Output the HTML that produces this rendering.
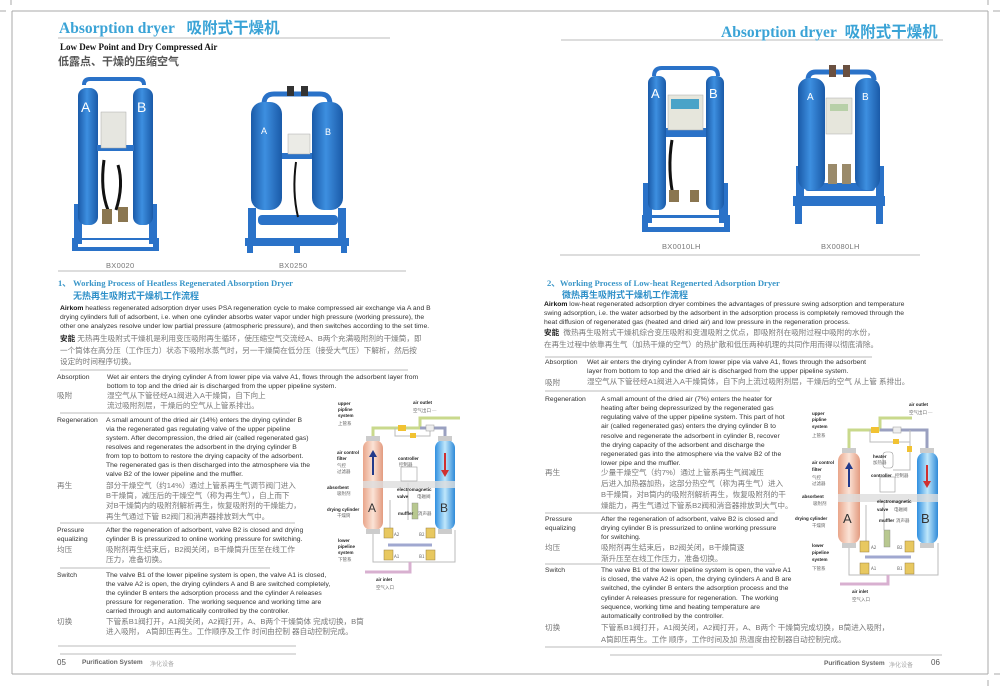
<!DOCTYPE html>
<html><head><meta charset="utf-8">
<style>
html,body{margin:0;padding:0;background:#fff;}
body{width:1000px;height:686px;position:relative;overflow:hidden;font-family:"Liberation Sans","Noto Sans CJK SC",sans-serif;}
.t{position:absolute;white-space:nowrap;font-size:6.8px;line-height:9px;color:#333;}
.c{position:absolute;white-space:nowrap;font-size:7.6px;line-height:10px;color:#777;font-family:"Liberation Sans","Noto Sans CJK SC",sans-serif;}
.h1{position:absolute;white-space:nowrap;font-family:"Liberation Serif","Noto Serif CJK SC",serif;font-weight:bold;color:#3aa3d6;font-size:15.5px;}
.h2{position:absolute;white-space:nowrap;font-family:"Liberation Serif",serif;font-weight:bold;color:#3a96c8;font-size:8.6px;}
.h3{position:absolute;white-space:nowrap;font-weight:bold;color:#2d8fc8;font-size:9px;font-family:"Liberation Sans","Noto Sans CJK SC",sans-serif;}
.cap{position:absolute;font-size:7.5px;color:#777;letter-spacing:0.3px;}
b{color:#111;}
</style></head><body>
<svg width="1000" height="686" style="position:absolute;left:0;top:0">
<defs>
<linearGradient id="bl" x1="0" x2="1"><stop offset="0" stop-color="#1a5aa8"/><stop offset=".45" stop-color="#3d8fe0"/><stop offset="1" stop-color="#1a5aa8"/></linearGradient>
<linearGradient id="pk" x1="0" x2="1"><stop offset="0" stop-color="#e9a58a"/><stop offset=".5" stop-color="#fbe3d6"/><stop offset="1" stop-color="#e39b80"/></linearGradient>
<linearGradient id="cy" x1="0" x2="1"><stop offset="0" stop-color="#2f8fe0"/><stop offset=".5" stop-color="#bfe7fb"/><stop offset="1" stop-color="#2f8ad8"/></linearGradient>
</defs>
<g stroke="#aaa" stroke-width="1" fill="none">
<line x1="12" y1="11" x2="988" y2="11"/><line x1="12" y1="11" x2="12" y2="674"/><line x1="988" y1="11" x2="988" y2="674"/><line x1="12" y1="674" x2="988" y2="674"/>
<line x1="0" y1="11" x2="6" y2="11"/><line x1="11" y1="0" x2="11" y2="5"/><line x1="993" y1="11" x2="1000" y2="11"/><line x1="988" y1="0" x2="988" y2="5"/><line x1="994" y1="674" x2="1000" y2="674"/><line x1="988" y1="680" x2="988" y2="686"/>
</g>
<g stroke="#bbb" stroke-width="1">
<line x1="58" y1="38" x2="390" y2="38"/><line x1="58" y1="271" x2="406" y2="271"/>
<line x1="60" y1="370" x2="408" y2="370"/><line x1="60" y1="413" x2="290" y2="413"/>
<line x1="60" y1="523" x2="295" y2="523"/><line x1="60" y1="568" x2="270" y2="568"/>
<line x1="60" y1="654" x2="296" y2="654"/>
<line x1="561" y1="40" x2="943" y2="40"/><line x1="560" y1="255" x2="920" y2="255"/>
<line x1="545" y1="357" x2="872" y2="357"/><line x1="545" y1="391" x2="760" y2="391"/>
<line x1="545" y1="513" x2="775" y2="513"/><line x1="545" y1="564" x2="775" y2="564"/>
<line x1="610" y1="655" x2="942" y2="655"/>
</g>
<line x1="58" y1="646" x2="296" y2="646" stroke="#ddd" stroke-width="2"/>
<line x1="545" y1="647" x2="753" y2="647" stroke="#ddd" stroke-width="2"/>

<g>
<rect x="72" y="238" width="87" height="13" fill="#2a72c8"/><rect x="78" y="240" width="75" height="7" fill="#fff"/>
<rect x="74" y="204" width="8" height="40" fill="#2a72c8"/><rect x="149" y="204" width="8" height="40" fill="#2a72c8"/>
<path d="M84 85 q0-6 6-6 h48 q6 0 6 6" stroke="#2a72c8" stroke-width="4" fill="none"/>
<rect x="78" y="88" width="20" height="137" rx="8" fill="url(#bl)"/><rect x="133" y="88" width="20" height="137" rx="8" fill="url(#bl)"/>
<rect x="97" y="145" width="37" height="6" fill="#2a72c8"/>
<rect x="101" y="112" width="25" height="36" fill="#e6e6e0" stroke="#aaa" stroke-width=".5"/>
<path d="M104 160 q-4 30 4 50 M118 165 q6 20 -2 45" stroke="#111" stroke-width="3" fill="none"/>
<rect x="102" y="209" width="10" height="15" fill="#8a7650"/><rect x="118" y="207" width="10" height="15" fill="#8a7650"/>
<text x="81" y="112" font-size="14" fill="#fff" font-family="Liberation Sans">A</text><text x="137" y="112" font-size="14" fill="#fff" font-family="Liberation Sans">B</text>
</g>
<g>
<rect x="245" y="238" width="104" height="8" fill="#2a72c8"/><rect x="247" y="240" width="6" height="13" fill="#2a72c8"/><rect x="341" y="240" width="6" height="13" fill="#2a72c8"/><rect x="294" y="240" width="6" height="13" fill="#2a72c8"/>
<rect x="248" y="208" width="8" height="32" fill="#2a72c8"/><rect x="338" y="208" width="8" height="32" fill="#2a72c8"/>
<rect x="258" y="215" width="80" height="10" rx="4" fill="#2a72c8"/>
<path d="M264 104 q0-10 10-10 h46 q10 0 10 10" stroke="#2a72c8" stroke-width="5" fill="none"/>
<rect x="287" y="86" width="7" height="10" fill="#333"/><rect x="301" y="86" width="7" height="10" fill="#333"/>
<rect x="251" y="102" width="31" height="108" rx="12" fill="url(#bl)"/><rect x="312" y="102" width="31" height="108" rx="12" fill="url(#bl)"/>
<rect x="282" y="153" width="30" height="6" fill="#2a72c8"/>
<rect x="288" y="134" width="22" height="20" fill="#ebebe6" stroke="#aaa" stroke-width=".5"/>
<path d="M296 162 q-4 30 2 55" stroke="#111" stroke-width="2" fill="none"/>
<text x="261" y="134" font-size="9" fill="#fff">A</text><text x="325" y="135" font-size="9" fill="#fff">B</text>
</g>
<g>
<rect x="642" y="215" width="88" height="17" fill="#2a72c8"/><rect x="648" y="218" width="76" height="9" fill="#fff"/>
<rect x="643" y="183" width="9" height="40" fill="#2a72c8"/><rect x="719" y="183" width="9" height="40" fill="#2a72c8"/>
<path d="M654 76 q0-8 8-8 h48 q8 0 8 8" stroke="#2a72c8" stroke-width="4" fill="none"/>
<rect x="648" y="76" width="18" height="134" rx="7" fill="url(#bl)"/><rect x="706" y="76" width="18" height="134" rx="7" fill="url(#bl)"/>
<rect x="666" y="128" width="40" height="9" fill="#2a72c8"/>
<rect x="668" y="95" width="35" height="35" fill="#e6e6dc" stroke="#aaa" stroke-width=".5"/><rect x="671" y="99" width="28" height="10" fill="#4aa3c8"/>
<path d="M672 140 q-5 30 2 60" stroke="#111" stroke-width="3" fill="none"/>
<rect x="669" y="190" width="10" height="12" fill="#8a7650"/><rect x="690" y="190" width="9" height="12" fill="#8a7650"/>
<text x="651" y="98" font-size="13" fill="#fff">A</text><text x="709" y="98" font-size="13" fill="#fff">B</text>
</g>
<g>
<rect x="793" y="196" width="92" height="10" fill="#2a72c8"/><rect x="795" y="200" width="7" height="24" fill="#2a72c8"/><rect x="876" y="200" width="7" height="24" fill="#2a72c8"/>
<rect x="796" y="166" width="8" height="32" fill="#2a72c8"/><rect x="876" y="166" width="8" height="32" fill="#2a72c8"/>
<rect x="805" y="183" width="70" height="8" rx="3" fill="#2a72c8"/>
<path d="M808 80 q0-8 8-8 h50 q8 0 8 8" stroke="#2a72c8" stroke-width="5" fill="none"/>
<rect x="829" y="65" width="7" height="12" fill="#6a5040"/><rect x="843" y="65" width="7" height="12" fill="#6a5040"/>
<rect x="798" y="78" width="27" height="112" rx="11" fill="url(#bl)"/><rect x="855" y="78" width="25" height="112" rx="11" fill="url(#bl)"/>
<rect x="826" y="98" width="26" height="36" fill="#e6e6dc" stroke="#aaa" stroke-width=".5"/><rect x="830" y="104" width="18" height="7" fill="#b8d0a8"/>
<rect x="828" y="164" width="9" height="20" fill="#9a8a6a"/><rect x="842" y="164" width="9" height="20" fill="#9a8a6a"/>
<text x="807" y="100" font-size="10" fill="#fff">A</text><text x="862" y="100" font-size="10" fill="#fff">B</text>
</g>

<g font-family="Liberation Sans" >
<g stroke="#c9d98c" stroke-width="3" fill="none"><path d="M373 438 V428 H420 V418 H460"/><path d="M373 428 H400"/></g>
<g stroke="#9aa0c0" stroke-width="3" fill="none"><path d="M420 428 H445 V438"/></g>
<g stroke="#bbb" stroke-width="1" fill="none"><path d="M395 428 V436 H430 V428"/><path d="M373 530 V562 H455 V530"/><path d="M390 500 V533"/><path d="M408 483 V520"/><path d="M390 545 H430"/></g>
<path d="M388 545 H432" stroke="#a0a8d0" stroke-width="3"/>
<path d="M410 562 V572 H365" stroke="#d8b0d0" stroke-width="3" fill="none"/>
<rect x="398" y="425" width="8" height="6" fill="#f1c232"/><rect x="426" y="425" width="8" height="6" fill="#eee" stroke="#999" stroke-width=".5"/><rect x="410" y="433" width="6" height="5" fill="#f1c232"/>
<rect x="363" y="440" width="20" height="90" rx="8" fill="url(#pk)"/><rect x="435" y="440" width="20" height="90" rx="8" fill="url(#cy)"/>
<rect x="366" y="436" width="14" height="5" fill="#ccc"/><rect x="438" y="436" width="14" height="5" fill="#ccc"/>
<rect x="366" y="529" width="14" height="5" fill="#ccc"/><rect x="438" y="529" width="14" height="5" fill="#ccc"/>
<rect x="363" y="481" width="92" height="7" fill="#ddd" opacity=".8"/>
<path d="M373 475 V453" stroke="#223a8a" stroke-width="2"/><path d="M369 457 L373 450 L377 457Z" fill="#223a8a"/>
<path d="M445 453 V473" stroke="#d03030" stroke-width="2"/><path d="M441 470 L445 477 L449 470Z" fill="#d03030"/>
<text x="368" y="512" font-size="12" fill="#333">A</text><text x="440" y="512" font-size="12" fill="#333">B</text>
<rect x="401" y="467" width="16" height="14" fill="#fff" stroke="#999" stroke-width=".6"/>
<rect x="412" y="503" width="6" height="16" fill="#b8c890" stroke="#888" stroke-width=".4"/>
<g fill="#e8c860" stroke="#9a8040" stroke-width=".5"><rect x="384" y="528" width="9" height="10"/><rect x="426" y="528" width="9" height="10"/><rect x="384" y="550" width="9" height="10"/><rect x="426" y="550" width="9" height="10"/></g>
<g font-size="4.5" fill="#222" font-weight="bold"><text x="338" y="405">upper</text><text x="338" y="411">pipline</text><text x="338" y="417">system</text>
<text x="413" y="404">air outlet</text><text x="337" y="454">air control</text><text x="337" y="460">filter</text>
<text x="327" y="489">absorbent</text><text x="327" y="511">drying cylinder</text>
<text x="398" y="460">controller</text><text x="397" y="491">electromagnetic</text><text x="397" y="498">valve</text>
<text x="398" y="515">muffler</text><text x="338" y="542">lower</text><text x="338" y="548">pipeline</text><text x="338" y="554">system</text>
<text x="376" y="581">air inlet</text></g>
<g font-size="4.5" fill="#666" font-family="Noto Sans CJK SC"><text x="338" y="425">上管系</text><text x="413" y="412">空气出口 ─</text><text x="337" y="467">气控</text><text x="337" y="473">过滤器</text>
<text x="337" y="495">吸附剂</text><text x="337" y="517">干燥筒</text><text x="399" y="466">控制器</text><text x="417" y="498">电磁阀</text><text x="418" y="515">消声器</text><text x="338" y="561">下管系</text><text x="376" y="589">空气入口</text>
<text x="394" y="536">A2</text><text x="419" y="536">B2</text><text x="394" y="558">A1</text><text x="419" y="558">B1</text></g>
</g>

<g font-family="Liberation Sans">
<g stroke="#c9d98c" stroke-width="3" fill="none"><path d="M849 450 V430 H880 V418 H912"/></g>
<g stroke="#9aa0c0" stroke-width="3" fill="none"><path d="M880 430 H927 V450"/></g>
<g stroke="#bbb" stroke-width="1" fill="none"><path d="M870 430 V442 H910 V430"/><path d="M910 442 V470 H893"/><path d="M849 543 V575 H938 V543"/><path d="M866 505 V546"/><path d="M884 500 V530"/></g>
<path d="M865 557 H911" stroke="#a0a8d0" stroke-width="3"/>
<path d="M888 575 V584 H840" stroke="#d8b0d0" stroke-width="3" fill="none"/>
<rect x="871" y="427" width="8" height="6" fill="#f1c232"/><rect x="893" y="427" width="8" height="6" fill="#eee" stroke="#999" stroke-width=".5"/><rect x="893" y="439" width="6" height="5" fill="#f1c232"/><rect x="907" y="446" width="5" height="6" fill="#f1c232"/>
<rect x="883" y="452" width="10" height="16" rx="3" fill="#fff" stroke="#999" stroke-width=".6"/>
<rect x="880" y="477" width="15" height="15" fill="#fff" stroke="#999" stroke-width=".6"/>
<rect x="838" y="452" width="22" height="92" rx="9" fill="url(#pk)"/><rect x="917" y="452" width="21" height="92" rx="9" fill="url(#cy)"/>
<rect x="842" y="448" width="14" height="5" fill="#ccc"/><rect x="920" y="448" width="14" height="5" fill="#ccc"/>
<rect x="842" y="543" width="14" height="5" fill="#ccc"/><rect x="920" y="543" width="14" height="5" fill="#ccc"/>
<rect x="838" y="494" width="100" height="8" fill="#ddd" opacity=".8"/>
<path d="M849 487 V465" stroke="#223a8a" stroke-width="2"/><path d="M845 469 L849 462 L853 469Z" fill="#223a8a"/>
<path d="M927 465 V484" stroke="#d03030" stroke-width="2"/><path d="M923 481 L927 488 L931 481Z" fill="#d03030"/>
<text x="843" y="523" font-size="13" fill="#333">A</text><text x="921" y="523" font-size="13" fill="#333">B</text>
<rect x="884" y="530" width="6" height="17" fill="#b8c890" stroke="#888" stroke-width=".4"/>
<g fill="#e8c860" stroke="#9a8040" stroke-width=".5"><rect x="860" y="541" width="9" height="11"/><rect x="905" y="541" width="9" height="11"/><rect x="860" y="563" width="9" height="11"/><rect x="905" y="563" width="9" height="11"/></g>
<g font-size="4.5" fill="#222" font-weight="bold"><text x="812" y="415">upper</text><text x="812" y="421">pipline</text><text x="812" y="428">system</text>
<text x="909" y="406">air outlet</text><text x="873" y="458">heater</text><text x="871" y="477">controller</text>
<text x="812" y="464">air control</text><text x="812" y="471">filter</text><text x="802" y="498">absorbent</text><text x="795" y="520">drying cylinder</text>
<text x="877" y="503">electromagnetic</text><text x="877" y="511">valve</text><text x="879" y="522">muffler</text>
<text x="812" y="547">lower</text><text x="812" y="554">pipeline</text><text x="812" y="561">system</text><text x="852" y="593">air inlet</text></g>
<g font-size="4.5" fill="#666" font-family="Noto Sans CJK SC"><text x="812" y="437">上管系</text><text x="909" y="414">空气出口 ─</text><text x="873" y="464">加热器</text><text x="895" y="477">控制器</text>
<text x="812" y="479">气控</text><text x="812" y="485">过滤器</text><text x="813" y="505">吸附剂</text><text x="812" y="527">干燥筒</text><text x="894" y="511">电磁阀</text><text x="896" y="522">消声器</text><text x="812" y="570">下管系</text><text x="852" y="601">空气入口</text>
<text x="871" y="549">A2</text><text x="897" y="549">B2</text><text x="871" y="570">A1</text><text x="897" y="570">B1</text></g>
</g>
</svg>

<div class="h1" style="left:59px;top:16px;">Absorption dryer&nbsp;&nbsp;&nbsp;<span style="font-family:'Noto Sans CJK SC',sans-serif;">吸附式干燥机</span></div>
<div style="position:absolute;left:60px;top:42px;font-family:'Liberation Serif',serif;font-weight:bold;font-size:9px;color:#111;">Low Dew Point and Dry Compressed Air</div>
<div style="position:absolute;left:58px;top:53px;font-weight:bold;font-size:11px;color:#555;font-family:'Noto Sans CJK SC',sans-serif;">低露点、干燥的压缩空气</div>
<div class="cap" style="left:106px;top:261px;">BX0020</div>
<div class="cap" style="left:279px;top:261px;">BX0250</div>

<div class="h2" style="left:58px;top:277px;">1、 Working Process of Heatless Regenerated Absorption Dryer</div>
<div class="h3" style="left:73px;top:289px;">无热再生吸附式干燥机工作流程</div>
<div class="t" style="left:60px;top:304px;"><b>Airkom</b> heatless regenerated adsorption dryer uses PSA regeneration cycle to make compressed air exchange via A and B</div>
<div class="t" style="left:60px;top:313px;">drying cylinders full of adsorbent, i.e. when one cylinder absorbs water vapor under high pressure (working pressure), the</div>
<div class="t" style="left:60px;top:322px;">other one analyzes resolve under low partial pressure (atmospheric pressure), and then switches according to the set time.</div>
<div class="c" style="left:60px;top:334px;"><b style="color:#222">安能</b>&nbsp;无热再生吸附式干燥机是利用变压吸附再生循环，使压缩空气交流经A、B两个充满吸附剂的干燥筒，即</div>
<div class="c" style="left:60px;top:346px;">一个筒体在高分压（工作压力）状态下吸附水蒸气时，另一干燥筒在低分压（接受大气压）下解析，然后按</div>
<div class="c" style="left:60px;top:357px;">设定的时间程序切换。</div>

<div class="t" style="left:57px;top:373px;">Absorption</div>
<div class="t" style="left:107px;top:373px;">Wet air enters the drying cylinder A from lower pipe via valve A1, flows through the adsorbent layer from</div>
<div class="t" style="left:107px;top:382px;">bottom to top and the dried air is discharged from the upper pipeline system.</div>
<div class="c" style="left:57px;top:391px;">吸附</div>
<div class="c" style="left:107px;top:391px;">湿空气从下管径经A1阀进入A干燥筒，自下向上</div>
<div class="c" style="left:107px;top:401px;">流过吸附剂层，干燥后的空气从上管系排出。</div>

<div class="t" style="left:57px;top:416px;">Regeneration</div>
<div class="t" style="left:106px;top:416px;">A small amount of the dried air (14%) enters the drying cylinder B</div>
<div class="t" style="left:106px;top:425px;">via the regenerated gas regulating valve of the upper pipeline</div>
<div class="t" style="left:106px;top:434px;">system. After decompression, the dried air (called regenerated gas)</div>
<div class="t" style="left:106px;top:443px;">resolves and regenerates the adsorbent in the drying cylinder B</div>
<div class="t" style="left:106px;top:452px;">from top to bottom to restore the drying capacity of the adsorbent.</div>
<div class="t" style="left:106px;top:461px;">The regenerated gas is then discharged into the atmosphere via the</div>
<div class="t" style="left:106px;top:470px;">valve B2 of the lower pipeline and the muffler.</div>
<div class="c" style="left:57px;top:481px;">再生</div>
<div class="c" style="left:106px;top:481px;">部分干燥空气（约14%）通过上管系再生气调节阀门进入</div>
<div class="c" style="left:106px;top:491px;">B干燥筒，减压后的干燥空气（称为再生气），自上而下</div>
<div class="c" style="left:106px;top:501px;">对B干燥筒内的吸附剂解析再生，恢复吸附剂的干燥能力，</div>
<div class="c" style="left:106px;top:512px;">再生气通过下管 B2阀门和消声器排放到大气中。</div>

<div class="t" style="left:57px;top:526px;">Pressure</div>
<div class="t" style="left:57px;top:535px;">equalizing</div>
<div class="t" style="left:106px;top:526px;">After the regeneration of adsorbent, valve B2 is closed and drying</div>
<div class="t" style="left:106px;top:535px;">cylinder B is pressurized to online working pressure for switching.</div>
<div class="c" style="left:57px;top:545px;">均压</div>
<div class="c" style="left:106px;top:545px;">吸附剂再生结束后，B2阀关闭，B干燥筒升压至在线工作</div>
<div class="c" style="left:106px;top:555px;">压力，准备切换。</div>

<div class="t" style="left:57px;top:571px;">Switch</div>
<div class="t" style="left:106px;top:571px;">The valve B1 of the lower pipeline system is open, the valve A1 is closed,</div>
<div class="t" style="left:106px;top:580px;">the valve A2 is open, the drying cylinders A and B are switched completely,</div>
<div class="t" style="left:106px;top:589px;">the cylinder B enters the adsorption process and the cylinder A releases</div>
<div class="t" style="left:106px;top:598px;">pressure for regeneration.&nbsp; The working sequence and working time are</div>
<div class="t" style="left:106px;top:607px;">carried through and automatically controlled by the controller.</div>
<div class="c" style="left:57px;top:617px;">切换</div>
<div class="c" style="left:106px;top:617px;">下管系B1阀打开，A1阀关闭，A2阀打开，A、B两个干燥筒体 完成切换，B筒</div>
<div class="c" style="left:106px;top:627px;">进入吸附，&nbsp;A筒卸压再生。工作顺序及工作 时间由控制 器自动控制完成。</div>

<div style="position:absolute;left:57px;top:658px;font-size:8px;color:#555;">05</div>
<div style="position:absolute;left:82px;top:659px;font-size:6.5px;color:#666;font-weight:bold;">Purification System</div>
<div style="position:absolute;left:150px;top:659px;font-size:6px;color:#aaa;">净化设备</div>

<div class="h1" style="left:721px;top:20px;">Absorption dryer&nbsp;&nbsp;<span style="font-family:'Noto Sans CJK SC',sans-serif;">吸附式干燥机</span></div>
<div class="cap" style="left:662px;top:242px;">BX0010LH</div>
<div class="cap" style="left:821px;top:242px;">BX0080LH</div>

<div class="h2" style="left:547px;top:277px;">2、Working Process of Low-heat Regenerted Adsorption Dryer</div>
<div class="h3" style="left:562px;top:288px;">微热再生吸附式干燥机工作流程</div>
<div class="t" style="left:544px;top:300px;"><b>Airkom</b> low-heat regenerated adsorption dryer combines the advantages of pressure swing adsorption and temperature</div>
<div class="t" style="left:544px;top:309px;">swing adsorption, i.e. the water adsorbed by the adsorbent in the adsorption process is completely removed through the</div>
<div class="t" style="left:544px;top:318px;">heat diffusion of regenerated gas (heated and dried air) and low pressure in the regeneration process.</div>
<div class="c" style="left:544px;top:328px;"><b style="color:#222">安能</b>&nbsp;&nbsp;微热再生吸附式干燥机综合变压吸附和变温吸附之优点，即吸附剂在吸附过程中吸附的水份，</div>
<div class="c" style="left:544px;top:340px;">在再生过程中依靠再生气（加热干燥的空气）的热扩散和低压两种机理的共同作用而得以彻底清除。</div>

<div class="t" style="left:545px;top:358px;">Absorption</div>
<div class="t" style="left:587px;top:358px;">Wet air enters the drying cylinder A from lower pipe via valve A1, flows through the adsorbent</div>
<div class="t" style="left:587px;top:367px;">layer from bottom to top and the dried air is discharged from the upper pipeline system.</div>
<div class="c" style="left:545px;top:378px;">吸附</div>
<div class="c" style="left:587px;top:377px;">湿空气从下管径经A1阀进入A干燥筒体，自下向上流过吸附剂层，干燥后的空气 从上管 系排出。</div>

<div class="t" style="left:545px;top:395px;">Regeneration</div>
<div class="t" style="left:601px;top:395px;">A small amount of the dried air (7%) enters the heater for</div>
<div class="t" style="left:601px;top:404px;">heating after being depressurized by the regenerated gas</div>
<div class="t" style="left:601px;top:413px;">regulating valve of the upper pipeline system. This part of hot</div>
<div class="t" style="left:601px;top:422px;">air (called regenerated gas) enters the drying cylinder B to</div>
<div class="t" style="left:601px;top:432px;">resolve and regenerate the adsorbent in cylinder B, recover</div>
<div class="t" style="left:601px;top:441px;">the drying capacity of the adsorbent and discharge the</div>
<div class="t" style="left:601px;top:450px;">regenerated gas into the atmosphere via the valve B2 of the</div>
<div class="t" style="left:601px;top:459px;">lower pipe and the muffler.</div>
<div class="c" style="left:545px;top:468px;">再生</div>
<div class="c" style="left:601px;top:468px;">少量干燥空气（约7%）通过上管系再生气阀减压</div>
<div class="c" style="left:601px;top:479px;">后进入加热器加热，这部分热空气（称为再生气）进入</div>
<div class="c" style="left:601px;top:490px;">B干燥筒，对B筒内的吸附剂解析再生，恢复吸附剂的干</div>
<div class="c" style="left:601px;top:501px;">燥能力，再生气通过下管系B2阀和消音器排放到大气中。</div>

<div class="t" style="left:545px;top:515px;">Pressure</div>
<div class="t" style="left:545px;top:524px;">equalizing</div>
<div class="t" style="left:601px;top:515px;">After the regeneration of adsorbent, valve B2 is closed and</div>
<div class="t" style="left:601px;top:524px;">drying cylinder B is pressurized to online working pressure</div>
<div class="t" style="left:601px;top:533px;">for switching.</div>
<div class="c" style="left:545px;top:543px;">均压</div>
<div class="c" style="left:601px;top:543px;">吸附剂再生结束后，B2阀关闭，B干燥筒逐</div>
<div class="c" style="left:601px;top:554px;">渐升压至在线工作压力，准备切换。</div>

<div class="t" style="left:545px;top:566px;">Switch</div>
<div class="t" style="left:601px;top:566px;">The valve B1 of the lower pipeline system is open, the valve A1</div>
<div class="t" style="left:601px;top:575px;">is closed, the valve A2 is open, the drying cylinders A and B are</div>
<div class="t" style="left:601px;top:584px;">switched, the cylinder B enters the adsorption process and the</div>
<div class="t" style="left:601px;top:594px;">cylinder A releases pressure for regeneration.&nbsp; The working</div>
<div class="t" style="left:601px;top:603px;">sequence, working time and heating temperature are</div>
<div class="t" style="left:601px;top:612px;">automatically controlled by the controller.</div>
<div class="c" style="left:545px;top:623px;">切换</div>
<div class="c" style="left:601px;top:623px;">下管系B1阀打开，A1阀关闭，A2阀打开，A、B两个 干燥筒完成切换，B筒进入吸附，</div>
<div class="c" style="left:601px;top:635px;">A筒卸压再生。工作 顺序，工作时间及加 热温度由控制器自动控制完成。</div>

<div style="position:absolute;left:824px;top:660px;font-size:6.5px;color:#666;font-weight:bold;">Purification System</div>
<div style="position:absolute;left:889px;top:660px;font-size:6px;color:#aaa;">净化设备</div>
<div style="position:absolute;left:931px;top:658px;font-size:8px;color:#555;">06</div>
</body></html>
